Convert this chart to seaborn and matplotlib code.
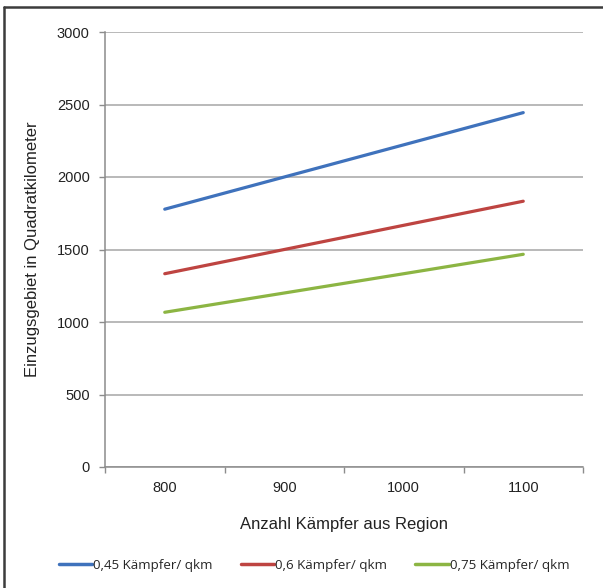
import matplotlib
matplotlib.use("Agg")
import matplotlib.pyplot as plt
import matplotlib.lines as mlines
import pandas as pd
import seaborn as sns

# Number of fighters from the region (categories on the x axis)
kaempfer = ["800", "900", "1000", "1100"]
# Catchment area in km² for each population density
dichte_045 = [1778, 2000, 2222, 2444]
dichte_060 = [1333, 1500, 1667, 1833]
dichte_075 = [1067, 1200, 1333, 1467]
serien = ["0,45 Kämpfer/ qkm", "0,6 Kämpfer/ qkm", "0,75 Kämpfer/ qkm"]
farben = ["#3F72BC", "#BE4441", "#8CB543"]

rows = []
for name, werte in zip(serien, [dichte_045, dichte_060, dichte_075]):
    for k, v in zip(kaempfer, werte):
        rows.append({"Kämpfer": k, "Fläche": v, "Serie": name})
df = pd.DataFrame(rows)

sns.set_theme(style="white")
plt.rcParams["font.family"] = ["Liberation Sans", "DejaVu Sans"]

fig = plt.figure(figsize=(6.03, 5.88), dpi=100)
ax = fig.add_axes([105 / 603, 1 - 467 / 588, (583 - 105) / 603, (467 - 32) / 588])

sns.lineplot(data=df, x="Kämpfer", y="Fläche", hue="Serie", palette=farben,
             linewidth=2.3, ax=ax, legend=False, sort=False)

ax.set_xlim(-0.5, 3.5)
ax.set_ylim(0, 3000)
ax.set_yticks(range(0, 3001, 500))
ax.yaxis.grid(True, color="#A6A6A6", linewidth=1.1)
ax.set_axisbelow(True)

for s in ["top", "right"]:
    ax.spines[s].set_visible(False)
for s in ["left", "bottom"]:
    ax.spines[s].set_color("#8C8C8C")
    ax.spines[s].set_linewidth(1.1)

ax.set_xticks(range(4))
ax.set_xticklabels(kaempfer)
ax.set_xticks([-0.5, 0.5, 1.5, 2.5, 3.5], minor=True)
ax.tick_params(axis="x", which="major", length=0, pad=10, labelsize=10.5, colors="#222222")
ax.tick_params(axis="x", which="minor", length=4, width=1, color="#8C8C8C", direction="out", bottom=True)
ax.tick_params(axis="y", which="major", length=4, width=1, color="#8C8C8C", direction="out",
               left=True, pad=7, labelsize=10.5, labelcolor="#222222")

ax.set_xlabel("Anzahl Kämpfer aus Region", fontsize=12, color="#222222", labelpad=16)
ax.set_ylabel("Einzugsgebiet in Quadratkilometer", fontsize=12, color="#222222", labelpad=12)

handles = [mlines.Line2D([], [], color=c, linewidth=2.5) for c in farben]
fig.legend(handles, serien, loc="center", bbox_to_anchor=(0.521, 1 - 565 / 588), ncol=3,
           frameon=False, handlelength=2.5, handletextpad=0.1,
           columnspacing=2.1, prop={"family": ["Open Sans", "DejaVu Sans"], "size": 9.6})

# outer chart frame (left and top edges visible)
fig.add_artist(mlines.Line2D([4 / 603, 4 / 603], [0, 1 - 7 / 588], transform=fig.transFigure,
                             color="#3C3C3C", linewidth=1.8))
fig.add_artist(mlines.Line2D([4 / 603, 1], [1 - 7 / 588, 1 - 7 / 588], transform=fig.transFigure,
                             color="#3C3C3C", linewidth=1.8))

fig.savefig("out.png", dpi=100)
